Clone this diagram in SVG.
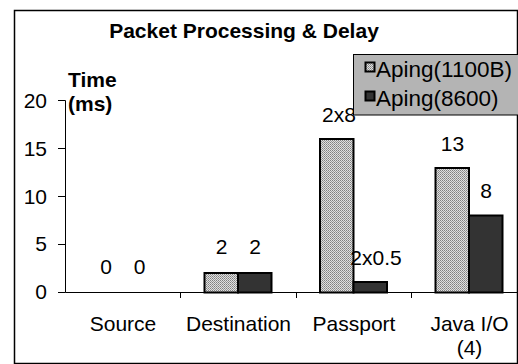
<svg xmlns="http://www.w3.org/2000/svg" width="518" height="364" viewBox="0 0 518 364">
  <style>
    .lbl { font-family: "Liberation Sans", Arial, sans-serif; font-size: 21px; fill: #000; }
    .bold { font-family: "Liberation Sans", Arial, sans-serif; font-size: 21px; font-weight: bold; fill: #000; }
    .key { font-family: "Liberation Sans", Arial, sans-serif; font-size: 22.5px; fill: #000; }
    .mid { text-anchor: middle; }
    .end { text-anchor: end; }
    .axis { stroke: #000; stroke-width: 1; fill: none; }
    .barA { fill: url(#stipple); stroke: #000; stroke-width: 2; }
    .barB { fill: #333333; stroke: #000; stroke-width: 2; }
  </style>
  <defs>
    <!-- fine dotted fill for the 1100B series -->
    <pattern id="stipple" patternUnits="userSpaceOnUse" width="2" height="2">
      <rect width="2" height="2" fill="#e0e0e0"/>
      <rect x="0" y="0" width="1" height="1" fill="#808080"/>
      <rect x="1" y="1" width="1" height="1" fill="#9a9a9a"/>
    </pattern>
  </defs>

  <!-- chart frame -->
  <rect x="14.5" y="10.5" width="503" height="353" fill="#fff" stroke="#000" stroke-width="1.5"/>

  <text class="bold mid" x="244" y="38">Packet Processing &amp; Delay</text>

  <!-- axis title -->
  <g id="axis-title">
    <text class="bold" x="68" y="87">Time</text>
    <text class="bold" x="68" y="111">(ms)</text>
  </g>

  <!-- value axis -->
  <g id="y-axis">
    <line class="axis" x1="65.5" y1="100.5" x2="65.5" y2="292.5"/>
    <line class="axis" x1="58" y1="100.5" x2="65.5" y2="100.5"/>
    <line class="axis" x1="58" y1="148.5" x2="65.5" y2="148.5"/>
    <line class="axis" x1="58" y1="196.5" x2="65.5" y2="196.5"/>
    <line class="axis" x1="58" y1="244.5" x2="65.5" y2="244.5"/>
    <line class="axis" x1="58" y1="292.5" x2="65.5" y2="292.5"/>
    <text class="lbl end" x="47" y="108">20</text>
    <text class="lbl end" x="47" y="156">15</text>
    <text class="lbl end" x="47" y="204">10</text>
    <text class="lbl end" x="47" y="251">5</text>
    <text class="lbl end" x="47" y="299">0</text>
  </g>

  <!-- category axis -->
  <g id="x-axis">
    <line class="axis" x1="65.5" y1="292.5" x2="518" y2="292.5"/>
    <line class="axis" x1="180.5" y1="292.5" x2="180.5" y2="298"/>
    <line class="axis" x1="296.5" y1="292.5" x2="296.5" y2="298"/>
    <line class="axis" x1="411.5" y1="292.5" x2="411.5" y2="298"/>
  </g>

  <g id="cat-source">
    <text class="lbl mid" x="123" y="331">Source</text>
    <text class="lbl mid" x="106" y="274">0</text>
    <text class="lbl mid" x="139.5" y="274">0</text>
  </g>

  <g id="cat-destination">
    <rect class="barA" x="204.5" y="273" width="33.5" height="19.5"/>
    <rect class="barB" x="238" y="273" width="33.5" height="19.5"/>
    <text class="lbl mid" x="238.5" y="331">Destination</text>
    <text class="lbl mid" x="221.5" y="254">2</text>
    <text class="lbl mid" x="255" y="254">2</text>
  </g>

  <g id="cat-passport">
    <rect class="barA" x="320" y="139" width="33.5" height="153.5"/>
    <rect class="barB" x="353.5" y="282" width="33.5" height="10.5"/>
    <text class="lbl mid" x="354" y="331">Passport</text>
    <text class="lbl mid" x="339" y="122">2x8</text>
    <text class="lbl mid" x="376" y="265">2x0.5</text>
  </g>

  <g id="cat-java">
    <rect class="barA" x="435.5" y="168" width="33.5" height="124.5"/>
    <rect class="barB" x="469" y="215.5" width="33.5" height="77"/>
    <text class="lbl mid" x="469.5" y="331">Java I/O</text>
    <text class="lbl mid" x="469.5" y="355">(4)</text>
    <text class="lbl mid" x="452.5" y="151">13</text>
    <text class="lbl mid" x="486" y="198">8</text>
  </g>

  <!-- legend, drawn last so it sits over the 2x8 label -->
  <g id="legend">
    <rect x="353.5" y="54.5" width="165" height="60.5" fill="#b4b4b4" stroke="#000" stroke-width="1"/>
    <rect class="barA" x="365.5" y="62.5" width="9" height="9" stroke-width="1.5"/>
    <text class="key" x="376" y="77">Aping(1100B)</text>
    <rect class="barB" x="365.5" y="91.5" width="9" height="9" stroke-width="1.5"/>
    <text class="key" x="376" y="106">Aping(8600)</text>
  </g>
</svg>
